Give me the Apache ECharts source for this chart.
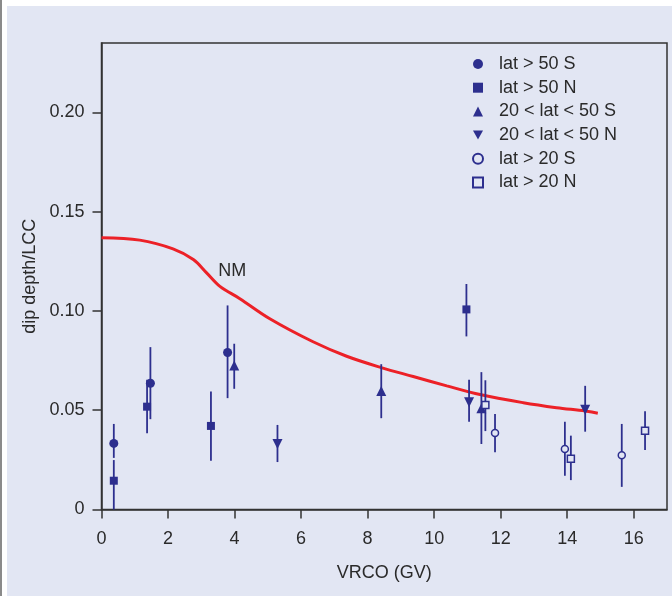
<!DOCTYPE html>
<html>
<head>
<meta charset="utf-8">
<script src="https://cdn.jsdelivr.net/npm/echarts@6/dist/echarts.min.js"></script>
<style>
  html, body { margin: 0; padding: 0; background: #ffffff; }
  #chart { width: 672px; height: 596px; }
</style>
</head>
<body>
<div id="chart"></div>
<script>
// Group labels (latitude bands)
const groupNames = ['lat > 50 S', 'lat > 50 N', '20 < lat < 50 S', '20 < lat < 50 N', 'lat > 20 S', 'lat > 20 N'];

// Dip depth per station: VRCO (GV), value, lower and upper error limits
const s50X  = [0.37, 1.47, 3.79];
const s50Y  = [0.0333, 0.0636, 0.0791];
const s50Lo = [0.026, 0.0455, 0.0561];
const s50Hi = [0.0431, 0.0818, 0.1028];

const n50X  = [0.37, 1.37, 3.29, 10.97];
const n50Y  = [0.0145, 0.0518, 0.0421, 0.1008];
const n50Lo = [0.0, 0.0384, 0.0245, 0.0872];
const n50Hi = [0.0249, 0.0653, 0.0594, 0.1136];

const sMidX  = [3.99, 8.41, 11.42];
const sMidY  = [0.0725, 0.0597, 0.051];
const sMidLo = [0.0608, 0.046, 0.033];
const sMidHi = [0.0835, 0.0732, 0.0692];

const nMidX  = [5.29, 11.05, 14.54];
const nMidY  = [0.033, 0.054, 0.0502];
const nMidLo = [0.0239, 0.0442, 0.0392];
const nMidHi = [0.0426, 0.0653, 0.0623];

const s20X  = [11.83, 13.93, 15.64];
const s20Y  = [0.0385, 0.0305, 0.0273];
const s20Lo = [0.0288, 0.017, 0.0114];
const s20Hi = [0.0481, 0.0442, 0.0431];

const n20X  = [11.54, 14.11, 16.34];
const n20Y  = [0.0527, 0.0256, 0.0397];
const n20Lo = [0.0395, 0.0148, 0.030];
const n20Hi = [0.0651, 0.0372, 0.0495];

// NM model curve
const curveX = [0, 1.15, 2.15, 2.76, 3.16, 3.56, 4.16, 5.06, 6.36, 7.37, 8.41, 9.37, 10.38, 11.38, 12.68, 13.68, 14.54, 14.92];
const curveY = [0.1369, 0.1357, 0.1313, 0.1259, 0.1192, 0.1124, 0.1062, 0.0961, 0.0845, 0.0772, 0.0715, 0.067, 0.0623, 0.0579, 0.0538, 0.0513, 0.0496, 0.0485];

// Curve annotation
const curveLabel = 'NM';
const curveLabelAt = [3.93, 0.12];

// Axis ticks
const xTicks = { min: 0, max: 17, interval: 2 };
const yTicks = { min: 0, max: 0.235, interval: 0.05 };

const NAVY = '#2d2f8e';
const RED = '#ec2127';
const PANEL = '#e2e6f3';
const INK = '#2a2a2a';
const FONT = '"Liberation Sans", Arial, sans-serif';

const groups = [
  { x: s50X, y: s50Y, lo: s50Lo, hi: s50Hi, symbol: 'circle', size: 9, rot: 0, open: false },
  { x: n50X, y: n50Y, lo: n50Lo, hi: n50Hi, symbol: 'rect', size: 8, rot: 0, open: false },
  { x: sMidX, y: sMidY, lo: sMidLo, hi: sMidHi, symbol: 'triangle', size: 10, rot: 0, open: false },
  { x: nMidX, y: nMidY, lo: nMidLo, hi: nMidHi, symbol: 'triangle', size: 10, rot: 180, open: false },
  { x: s20X, y: s20Y, lo: s20Lo, hi: s20Hi, symbol: 'circle', size: 7, rot: 0, open: true },
  { x: n20X, y: n20Y, lo: n20Lo, hi: n20Hi, symbol: 'rect', size: 7, rot: 0, open: true }
];

// Legend icons; the downward triangle needs its own path
const legendIcons = ['circle', 'rect', 'triangle', 'path://M0,0 L10,0 L5,9 Z', 'circle', 'rect'];

// Error bars for every station
const errData = [];
groups.forEach(g => g.x.forEach((xv, i) => errData.push([xv, g.lo[i], g.hi[i]])));

const series = [];

series.push({
  type: 'line',
  name: 'model',
  data: curveX.map((xv, i) => [xv, curveY[i]]),
  smooth: 0.35,
  showSymbol: false,
  lineStyle: { color: RED, width: 3 },
  z: 2,
  silent: true
});

// Text label for the model curve
series.push({
  type: 'scatter',
  name: 'model label',
  data: [curveLabelAt],
  symbolSize: 2,
  itemStyle: { color: 'rgba(0,0,0,0)', opacity: 1 },
  silent: true,
  z: 6,
  label: {
    show: true,
    position: 'inside',
    formatter: curveLabel,
    color: INK,
    fontFamily: FONT,
    fontSize: 18
  }
});

series.push({
  type: 'custom',
  name: 'errors',
  data: errData,
  z: 3,
  silent: true,
  renderItem: function (params, api) {
    const top = api.coord([api.value(0), api.value(2)]);
    const bot = api.coord([api.value(0), api.value(1)]);
    return {
      type: 'line',
      shape: { x1: top[0], y1: top[1], x2: bot[0], y2: bot[1] },
      style: { stroke: NAVY, lineWidth: 1.8 }
    };
  }
});

groups.forEach((g, k) => {
  series.push({
    type: 'scatter',
    name: groupNames[k],
    data: g.x.map((xv, i) => [xv, g.y[i]]),
    symbol: g.symbol,
    symbolSize: g.size,
    symbolRotate: g.rot,
    z: 5,
    itemStyle: g.open
      ? { color: PANEL, borderColor: NAVY, borderWidth: 1.5, opacity: 1 }
      : { color: NAVY, opacity: 1 }
  });
});

const chart = echarts.init(document.getElementById('chart'), null, { renderer: 'canvas' });
chart.setOption({
  animation: false,
  backgroundColor: '#ffffff',
  graphic: [
    { type: 'rect', z: -100, shape: { x: 7, y: 6, width: 665, height: 590 }, style: { fill: PANEL } },
    { type: 'rect', z: -100, shape: { x: 0, y: 0, width: 2, height: 596 }, style: { fill: '#8a8a8a' } }
  ],
  grid: {
    left: 101.5, top: 43, right: 5, bottom: 86.5,
    show: true, borderColor: '#333333', borderWidth: 1.5, backgroundColor: 'transparent'
  },
  legend: {
    orient: 'vertical',
    left: 467, top: 49,
    itemWidth: 10, itemHeight: 10,
    itemGap: 3.7,
    data: groupNames.map((n, i) => ({ name: n, icon: legendIcons[i] })),
    textStyle: { fontFamily: FONT, fontSize: 18, color: INK, lineHeight: 20, padding: [0, 0, 0, 11] }
  },
  xAxis: {
    type: 'value',
    min: xTicks.min, max: xTicks.max, interval: xTicks.interval,
    name: 'VRCO (GV)',
    nameLocation: 'middle', nameGap: 55,
    nameTextStyle: { fontFamily: FONT, fontSize: 18, color: INK },
    axisLine: { show: true, onZero: false, lineStyle: { color: '#333333', width: 1.5 } },
    axisTick: { show: true, inside: false, length: 9, lineStyle: { color: '#333333', width: 1.5 } },
    axisLabel: { margin: 21, fontFamily: FONT, fontSize: 18, color: INK, showMaxLabel: false },
    splitLine: { show: false }
  },
  yAxis: {
    type: 'value',
    min: yTicks.min, max: yTicks.max, interval: yTicks.interval,
    name: 'dip depth/LCC',
    nameLocation: 'middle', nameGap: 62,
    nameTextStyle: { fontFamily: FONT, fontSize: 18, color: INK },
    axisLine: { show: true, onZero: false, lineStyle: { color: '#333333', width: 1.5 } },
    axisTick: { show: true, inside: false, length: 9, lineStyle: { color: '#333333', width: 1.5 } },
    axisLabel: {
      margin: 17, fontFamily: FONT, fontSize: 18, color: INK, showMaxLabel: false,
      formatter: v => (v === 0 ? '0' : v.toFixed(2))
    },
    splitLine: { show: false }
  },
  series: series
});
</script>
</body>
</html>
